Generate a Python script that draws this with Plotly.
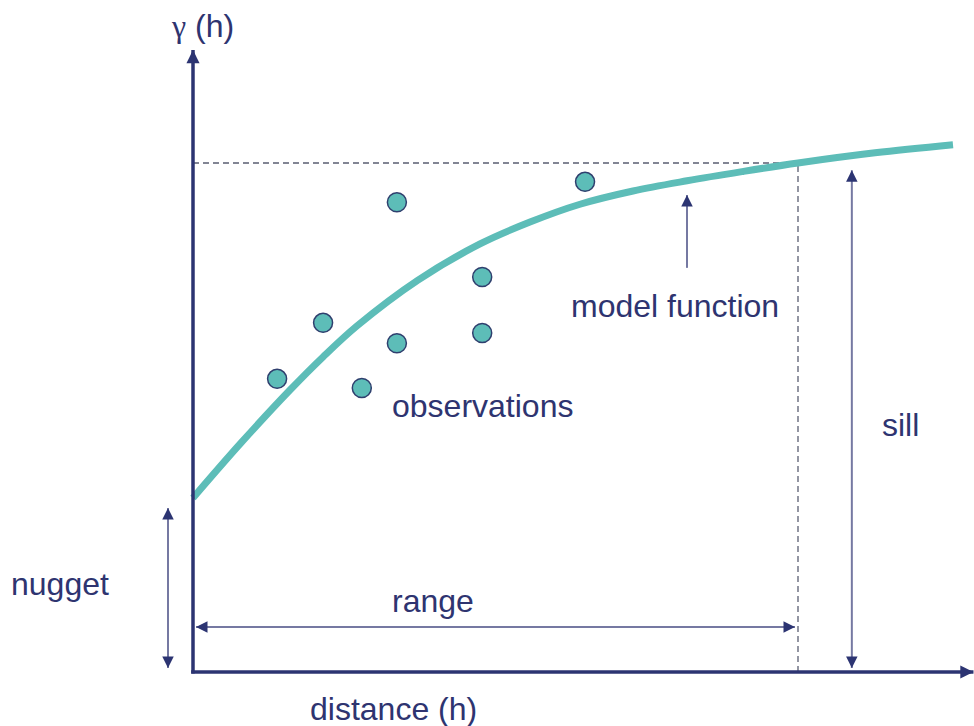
import plotly.graph_objects as go

# ---- data ----
model_h = [0, 7.93, 16.03, 21.49, 27.11, 37.19, 47.44, 55.70, 63.97, 72.73,
           81.65, 90.74, 100, 112.73, 125.62]
model_gamma = [34.2, 45.0, 55.4, 61.9, 68.0, 77.0, 84.1, 88.4, 91.9, 94.5,
               96.5, 98.3, 100, 102.0, 103.6]
obs_h = [13.9, 21.5, 27.9, 33.7, 33.7, 47.8, 47.8, 64.8]
obs_gamma = [57.6, 68.6, 55.8, 92.3, 64.6, 77.6, 66.6, 96.3]
nugget = 34.2
sill = 100
range_h = 100

NAVY = "#2c3472"
SHAFT = "#7579a2"
TEAL = "#5dbdb8"
TEXT = "#2e3470"
FONT = "Liberation Sans, Arial, sans-serif"

fig = go.Figure()

# dashed guide lines for sill and range
fig.add_trace(go.Scatter(x=[0, range_h], y=[sill, sill], mode="lines",
                         line=dict(color="#5a5e72", width=1.3, dash="6px,4px"),
                         hoverinfo="skip", showlegend=False))
fig.add_trace(go.Scatter(x=[range_h, range_h], y=[0, sill], mode="lines",
                         line=dict(color="#5a5e72", width=1.3, dash="6px,4px"),
                         hoverinfo="skip", showlegend=False))

# model curve
fig.add_trace(go.Scatter(x=model_h, y=model_gamma, mode="lines",
                         line=dict(color=TEAL, width=7, shape="spline", smoothing=1.0),
                         hoverinfo="skip", showlegend=False))
# observations
fig.add_trace(go.Scatter(x=obs_h, y=obs_gamma, mode="markers",
                         marker=dict(size=19, color=TEAL, line=dict(color="#2f3f6e", width=1.5)),
                         hoverinfo="skip", showlegend=False))

annotations = []
shapes = []


def head(x, y, dx, dy, width, size):
    # arrow head at (x,y); (dx,dy) pixel offset toward the tail
    annotations.append(dict(x=x, y=y, xref="x", yref="y", text="", showarrow=True,
                            ax=dx, ay=dy, arrowhead=2, arrowsize=size, arrowwidth=width,
                            arrowcolor=NAVY, standoff=0))


def arrow(x0, y0, x1, y1, color, width, start=False, end=True, size=1.0):
    shapes.append(dict(type="line", xref="x", yref="y", x0=x0, y0=y0, x1=x1, y1=y1,
                       line=dict(color=color, width=width), layer="above"))
    L = 8
    if x0 == x1:
        s = 1 if y1 > y0 else -1
        if end:
            head(x1, y1, 0, s * L, width, size)
        if start:
            head(x0, y0, 0, -s * L, width, size)
    else:
        s = 1 if x1 > x0 else -1
        if end:
            head(x1, y1, -s * L, 0, width, size)
        if start:
            head(x0, y0, s * L, 0, width, size)


# axes
arrow(0, -0.3, 0, 122.2, NAVY, 3.5, size=0.75)
arrow(-0.3, 0, 129.0, 0, NAVY, 3.5, size=0.75)
# nugget, range, sill, model function arrows
arrow(-4.13, 0.8, -4.13, nugget - 2.0, SHAFT, 2, start=True, size=1.15)
arrow(0.5, 8.84, range_h - 0.5, 8.84, SHAFT, 2, start=True, size=1.15)
arrow(108.9, 0.8, 108.9, sill - 1.4, SHAFT, 2, start=True, size=1.15)
arrow(81.65, 79.4, 81.65, 93.7, SHAFT, 2, size=1.15)


def label(x, y, t):
    annotations.append(dict(x=x, y=y, xref="x", yref="y", text=t, showarrow=False,
                            xanchor="center", yanchor="middle",
                            font=dict(family=FONT, size=32, color=TEXT)))


label(1.65, 126.9, "<span style=\"font-family:'Liberation Serif'\">γ</span> (h)")
label(-21.98, 17.29, "nugget")
label(39.67, 13.95, "range")
label(33.06, -7.27, "distance (h)")
label(116.86, 48.53, "sill")
label(47.77, 52.26, "observations")
label(79.67, 71.91, "model function")

fig.update_layout(
    width=974, height=726,
    margin=dict(l=0, r=0, t=0, b=0, pad=0),
    paper_bgcolor="white", plot_bgcolor="white",
    xaxis=dict(range=[-31.901, 129.091], visible=False, fixedrange=True),
    yaxis=dict(range=[-10.609, 132.024], visible=False, fixedrange=True),
    annotations=annotations, shapes=shapes, showlegend=False,
)

fig.write_html("out.html", config={"displayModeBar": False},
               post_script="document.body.style.margin='0';document.body.style.overflow='hidden';")
